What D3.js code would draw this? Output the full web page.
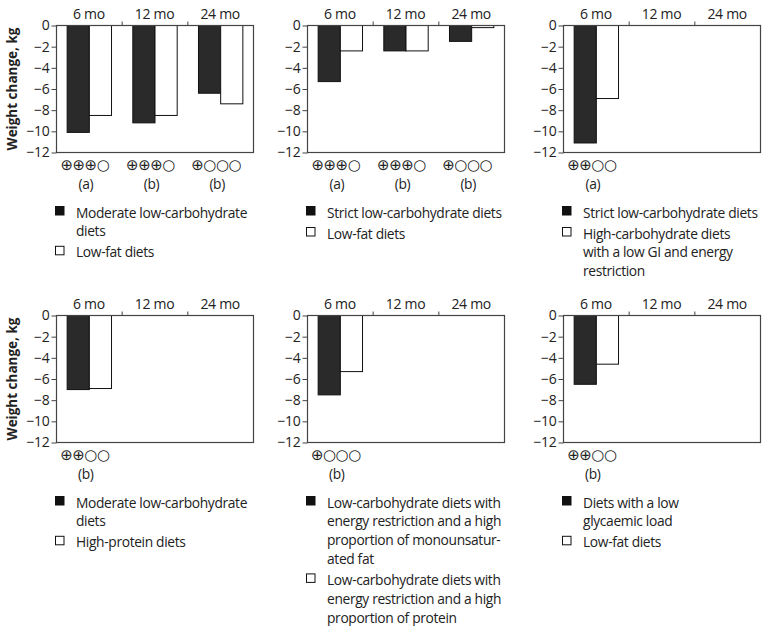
<!DOCTYPE html>
<html>
<head>
<meta charset="utf-8">
<script src="https://cdn.jsdelivr.net/npm/d3@7"></script>
<style>
  body { margin: 0; background: #fff; }
  text { font-family: "Open Sans", sans-serif; fill: #222; }
  .lbl { font-size: 13.8px; letter-spacing: -0.35px; }
  .tick text { font-size: 14px; letter-spacing: -0.3px; }
  .ytitle { font-size: 13.5px; font-weight: bold; }
  .grade { font-family: "DejaVu Sans", sans-serif; font-size: 15px; letter-spacing: -0.5px; }
</style>
</head>
<body>
<div id="chart"></div>
<script>
// data
const periods = ["6 mo", "12 mo", "24 mo"]
const yTicks = [0, -2, -4, -6, -8, -10, -12]

const p1Diet = [-10.1, -9.2, -6.4]
const p1Comp = [-8.5, -8.5, -7.4]
const p2Diet = [-5.3, -2.4, -1.5]
const p2Comp = [-2.4, -2.4, -0.2]
const p3Diet = [-11.1]
const p3Comp = [-6.9]
const p4Diet = [-7.0]
const p4Comp = [-6.9]
const p5Diet = [-7.5]
const p5Comp = [-5.3]
const p6Diet = [-6.5]
const p6Comp = [-4.6]

const p1Quality = ["⊕⊕⊕○", "⊕⊕⊕○", "⊕○○○"]
const p2Quality = ["⊕⊕⊕○", "⊕⊕⊕○", "⊕○○○"]
const p3Quality = ["⊕⊕○○"]
const p4Quality = ["⊕⊕○○"]
const p5Quality = ["⊕○○○"]
const p6Quality = ["⊕⊕○○"]

const p1Ref = ["(a)", "(b)", "(b)"]
const p2Ref = ["(a)", "(b)", "(b)"]
const p3Ref = ["(a)"]
const p4Ref = ["(b)"]
const p5Ref = ["(b)"]
const p6Ref = ["(b)"]

const p1Legend = [["Moderate low-carbohydrate", "diets"], ["Low-fat diets"]]
const p2Legend = [["Strict low-carbohydrate diets"], ["Low-fat diets"]]
const p3Legend = [["Strict low-carbohydrate diets"], ["High-carbohydrate diets", "with a low GI and energy", "restriction"]]
const p4Legend = [["Moderate low-carbohydrate", "diets"], ["High-protein diets"]]
const p5Legend = [["Low-carbohydrate diets with", "energy restriction and a high", "proportion of monounsatur-", "ated fat"],
                  ["Low-carbohydrate diets with", "energy restriction and a high", "proportion of protein"]]
const p6Legend = [["Diets with a low", "glycaemic load"], ["Low-fat diets"]]

const panels = [
  {diet: p1Diet, comp: p1Comp, quality: p1Quality, ref: p1Ref, legend: p1Legend},
  {diet: p2Diet, comp: p2Comp, quality: p2Quality, ref: p2Ref, legend: p2Legend},
  {diet: p3Diet, comp: p3Comp, quality: p3Quality, ref: p3Ref, legend: p3Legend},
  {diet: p4Diet, comp: p4Comp, quality: p4Quality, ref: p4Ref, legend: p4Legend},
  {diet: p5Diet, comp: p5Comp, quality: p5Quality, ref: p5Ref, legend: p5Legend},
  {diet: p6Diet, comp: p6Comp, quality: p6Quality, ref: p6Ref, legend: p6Legend},
]

// dimensions
const width = 765
const height = 626
const colX = [56, 307, 563]
const rowY = [25.5, 315.5]
const plotW = 197
const plotH = 127
const lineH = 18.8
const itemGap = 2.2

const svg = d3.select("#chart")
  .append("svg")
    .attr("width", width)
    .attr("height", height)

const yScale = d3.scaleLinear()
  .domain([-12, 0])
  .range([plotH, 0])

const xScale = d3.scaleBand()
  .domain(periods)
  .range([0, plotW])

const x1Scale = d3.scaleBand()
  .domain(["diet", "comp"])
  .range([0, xScale.bandwidth()])
  .paddingOuter(0.48)

panels.forEach((p, i) => {
  const col = i % 3
  const row = Math.floor(i / 3)
  const g = svg.append("g")
      .attr("transform", `translate(${colX[col]}, ${rowY[row]})`)

  // bars
  const bars = []
  p.diet.forEach((v, j) => bars.push({period: periods[j], key: "diet", value: v}))
  p.comp.forEach((v, j) => bars.push({period: periods[j], key: "comp", value: v}))

  g.selectAll("rect.bar")
    .data(bars)
    .enter().append("rect")
      .attr("class", "bar")
      .attr("x", d => xScale(d.period) + x1Scale(d.key) + 0.5)
      .attr("y", yScale(0))
      .attr("width", x1Scale.bandwidth())
      .attr("height", d => yScale(d.value) - yScale(0))
      .attr("fill", d => d.key === "diet" ? "#2a2a2a" : "#fff")
      .attr("stroke", "#111")
      .attr("stroke-width", 1)

  // frame
  g.append("rect")
      .attr("x", 0.5)
      .attr("y", 0)
      .attr("width", plotW)
      .attr("height", plotH)
      .attr("fill", "none")
      .attr("stroke", "#444")
      .attr("stroke-width", 1.2)

  // y axis
  const yAxis = g.append("g")
      .attr("transform", "translate(0.5,0)")
      .call(d3.axisLeft(yScale).tickValues(yTicks).tickSize(5).tickSizeOuter(0).tickPadding(2))
  yAxis.select(".domain").remove()
  yAxis.selectAll(".tick line").attr("stroke", "#444")

  // top category labels and dividers
  const xAxis = g.append("g")
      .call(d3.axisTop(xScale).tickSize(0).tickPadding(7))
  xAxis.select(".domain").remove()
  g.selectAll("line.div")
    .data(periods.slice(1))
    .enter().append("line")
      .attr("class", "div")
      .attr("x1", d => xScale(d) + 0.5)
      .attr("x2", d => xScale(d) + 0.5)
      .attr("y1", 0)
      .attr("y2", -4)
      .attr("stroke", "#444")

  // quality grades
  g.selectAll("text.grade")
    .data(p.quality)
    .enter().append("text")
      .attr("class", "grade")
      .attr("x", (d, j) => xScale(periods[j]) + xScale.bandwidth() / 2 - 4)
      .attr("y", plotH + 17)
      .attr("text-anchor", "middle")
      .text(d => d)

  g.selectAll("text.ref")
    .data(p.ref)
    .enter().append("text")
      .attr("class", "lbl")
      .attr("x", (d, j) => xScale(periods[j]) + xScale.bandwidth() / 2 - 3)
      .attr("y", plotH + 36)
      .attr("text-anchor", "middle")
      .text(d => d)

  // y title on the left column
  if (col === 0) {
    g.append("text")
        .attr("class", "ytitle")
        .attr("transform", `translate(${-39}, ${plotH / 2}) rotate(-90)`)
        .attr("text-anchor", "middle")
        .text("Weight change, kg")
  }

  // legend
  let ly = plotH + 65
  p.legend.forEach((lines, k) => {
    g.append("rect")
        .attr("x", -0.5)
        .attr("y", ly - 11)
        .attr("width", 8.5)
        .attr("height", 8.5)
        .attr("fill", k === 0 ? "#111" : "#fff")
        .attr("stroke", "#111")
        .attr("stroke-width", 1)
    lines.forEach((t, m) => {
      g.append("text")
          .attr("class", "lbl")
          .attr("x", 20)
          .attr("y", ly + m * lineH)
          .text(t)
    })
    ly += lines.length * lineH + itemGap
  })
})
</script>
</body>
</html>
